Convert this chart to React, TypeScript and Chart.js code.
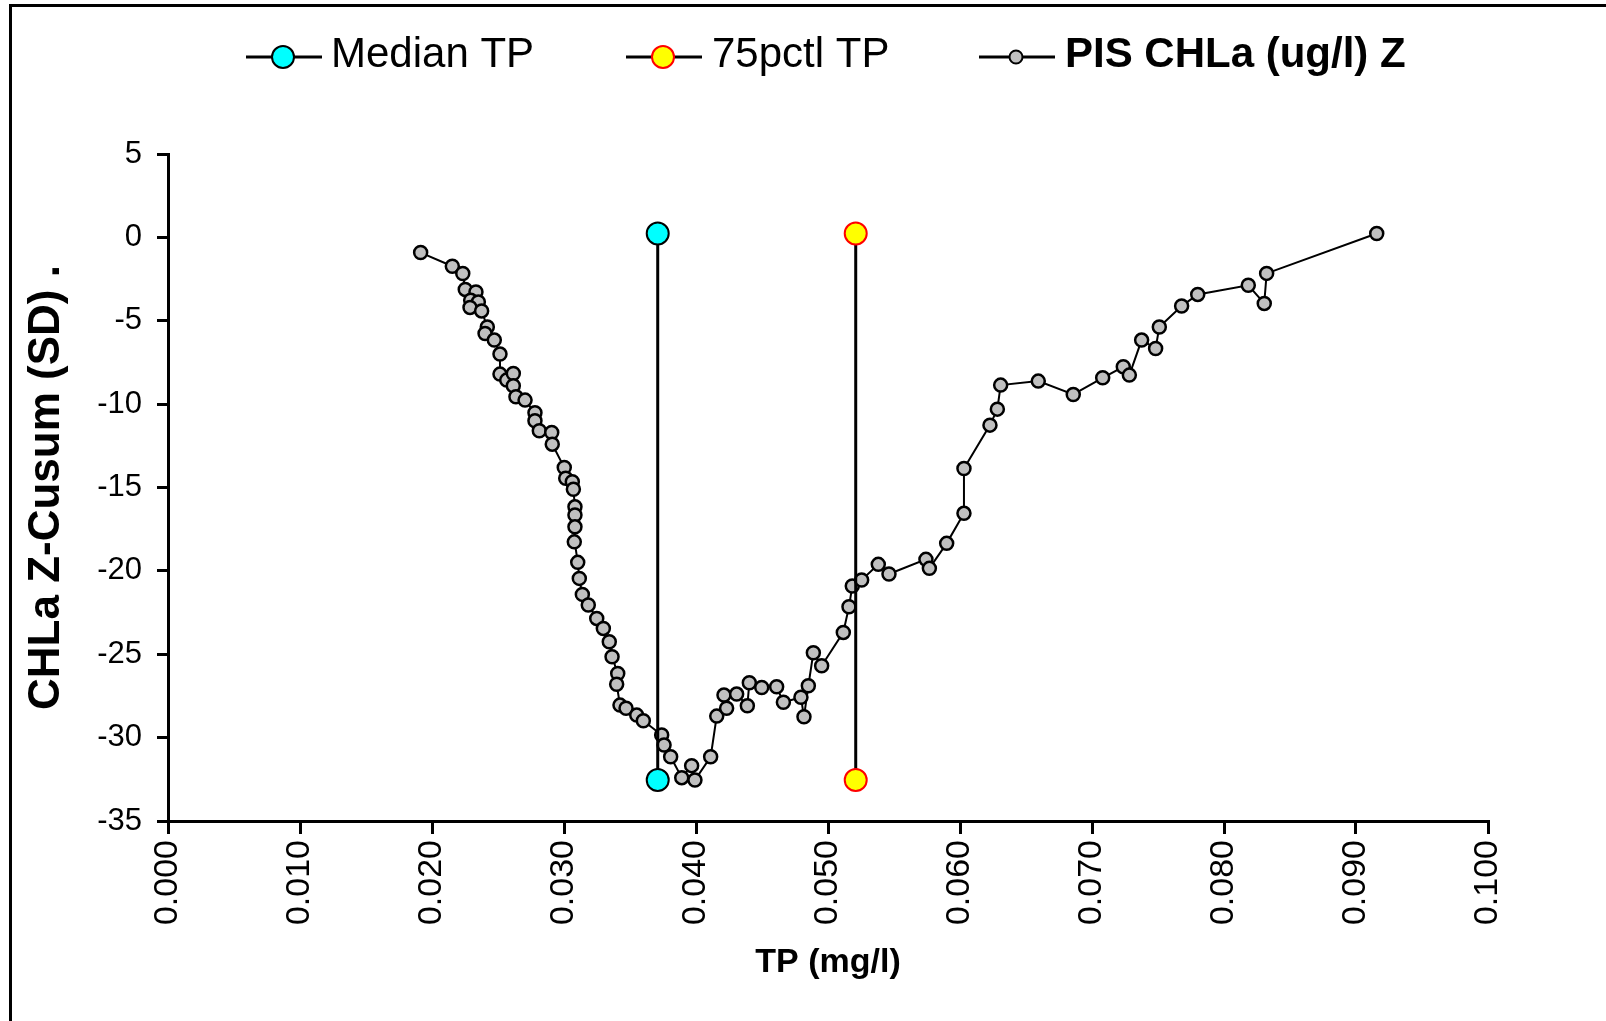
import React, { useEffect, useRef } from "react";
import { Chart, registerables } from "chart.js";

Chart.register(...registerables);

// TP (mg/l), sorted, for the PIS CHLa Z-cusum series
const tpValues = [
  0.01914, 0.02154, 0.02233, 0.02252, 0.02333, 0.02293, 0.02351, 0.02288, 0.02376, 0.02419,
  0.02402, 0.02472, 0.02515, 0.02515, 0.02566, 0.02616, 0.02616, 0.02636, 0.02705, 0.0278,
  0.0278, 0.02813, 0.02907, 0.02911, 0.03002, 0.03013, 0.03063, 0.03071, 0.03083, 0.03083,
  0.03083, 0.03078, 0.03104, 0.03116, 0.03139, 0.03184, 0.03248, 0.03298, 0.03343, 0.03364,
  0.03407, 0.03399, 0.03424, 0.0347, 0.03551, 0.03601, 0.0374, 0.03758, 0.03808, 0.03892,
  0.03967, 0.03992, 0.04111, 0.04157, 0.04232, 0.04212, 0.04308, 0.04389, 0.04404, 0.04498,
  0.04611, 0.04662, 0.04795, 0.04818, 0.04851, 0.04889, 0.04952, 0.05116, 0.05159, 0.05184,
  0.05255, 0.05381, 0.05462, 0.05742, 0.05768, 0.05899, 0.0603, 0.0603, 0.06227, 0.06283,
  0.06308, 0.06593, 0.06858, 0.07081, 0.07237, 0.07283, 0.07376, 0.07482, 0.0751, 0.07679,
  0.07801, 0.08184, 0.08305, 0.08323, 0.09157,
];

// CHLa Z-Cusum (SD)
const cusumValues = [
  -0.91, -1.73, -2.17, -3.12, -3.27, -3.77, -3.87, -4.2, -4.41, -5.37,
  -5.76, -6.16, -7.0, -8.2, -8.56, -8.16, -8.9, -9.56, -9.76, -10.52,
  -11.0, -11.6, -11.7, -12.4, -13.8, -14.45, -14.66, -15.11, -16.16, -16.65,
  -17.36, -18.26, -19.49, -20.45, -21.41, -22.05, -22.85, -23.45, -24.25, -25.15,
  -26.15, -26.8, -28.05, -28.24, -28.65, -28.99, -29.84, -30.44, -31.15, -32.4,
  -31.68, -32.54, -31.15, -28.71, -28.24, -27.45, -27.39, -28.09, -26.71, -26.99,
  -26.95, -27.88, -27.58, -28.75, -26.89, -24.91, -25.69, -23.69, -22.15, -20.91,
  -20.55, -19.61, -20.19, -19.31, -19.85, -18.35, -16.55, -13.86, -11.26, -10.3,
  -8.86, -8.62, -9.42, -8.42, -7.76, -8.26, -6.16, -6.66, -5.37, -4.12,
  -3.42, -2.87, -3.96, -2.16, 0.23,
];

const medianTP = 0.0371;
const pctl75TP = 0.0521;
const markerLow = -32.54;
const markerHigh = 0.23;

const seriesNames = ["Median TP", "75pctl TP", "PIS CHLa (ug/l) Z"];
const xAxisTitle = "TP (mg/l)";
const yAxisTitle = "CHLa Z-Cusum (SD) .";
const xRange = [0, 0.1];
const xStep = 0.01;
const yRange = [-35, 5];
const yStep = 5;

const FONT = "'Liberation Sans', Arial, Helvetica, sans-serif";

const legendPlugin = {
  id: "lineMarkerLegend",
  afterDraw(chart: any) {
    const ctx = chart.ctx as CanvasRenderingContext2D;
    const items = [
      { x: 246, textX: 331, fill: "#00FFFF", stroke: "#000000", r: 11, bold: false, label: seriesNames[0] },
      { x: 626, textX: 712, fill: "#FFFF00", stroke: "#FF0000", r: 11, bold: false, label: seriesNames[1] },
      { x: 979, textX: 1065, fill: "#C0C0C0", stroke: "#000000", r: 6.5, bold: true, label: seriesNames[2] },
    ];
    const ly = 57;
    ctx.save();
    for (const it of items) {
      ctx.beginPath();
      ctx.strokeStyle = "#000000";
      ctx.lineWidth = 3;
      ctx.moveTo(it.x, ly);
      ctx.lineTo(it.x + 76, ly);
      ctx.stroke();
      ctx.beginPath();
      ctx.arc(it.x + 37, ly, it.r, 0, Math.PI * 2);
      ctx.fillStyle = it.fill;
      ctx.fill();
      ctx.lineWidth = 2;
      ctx.strokeStyle = it.stroke;
      ctx.stroke();
      ctx.fillStyle = "#000000";
      ctx.font = `${it.bold ? "bold " : ""}42px ${FONT}`;
      ctx.textBaseline = "alphabetic";
      ctx.textAlign = "left";
      ctx.fillText(it.label, it.textX, 67);
    }
    ctx.restore();
  },
};

export default function App() {
  const ref = useRef<HTMLCanvasElement>(null);

  useEffect(() => {
    const canvas = ref.current;
    if (!canvas) return;
    const pisData = tpValues.map((x, i) => ({ x, y: cusumValues[i] }));
    const chart = new Chart(canvas, {
      type: "scatter",
      data: {
        datasets: [
          {
            label: seriesNames[0],
            data: [
              { x: medianTP, y: markerLow },
              { x: medianTP, y: markerHigh },
            ],
            showLine: true,
            borderColor: "#000000",
            borderWidth: 3,
            pointRadius: 11,
            pointBackgroundColor: "#00FFFF",
            pointBorderColor: "#000000",
            pointBorderWidth: 2,
            order: 1,
          },
          {
            label: seriesNames[1],
            data: [
              { x: pctl75TP, y: markerLow },
              { x: pctl75TP, y: markerHigh },
            ],
            showLine: true,
            borderColor: "#000000",
            borderWidth: 3,
            pointRadius: 11,
            pointBackgroundColor: "#FFFF00",
            pointBorderColor: "#FF0000",
            pointBorderWidth: 2,
            order: 1,
          },
          {
            label: seriesNames[2],
            data: pisData,
            showLine: true,
            borderColor: "#000000",
            borderWidth: 2,
            pointRadius: 6.5,
            pointBackgroundColor: "#C0C0C0",
            pointBorderColor: "#000000",
            pointBorderWidth: 2.5,
            order: 2,
          },
        ],
      },
      options: {
        responsive: false,
        animation: false,
        devicePixelRatio: 1,
        events: [],
        layout: { padding: { left: 0, top: 154, right: 118, bottom: 0 } },
        plugins: {
          legend: { display: false },
          tooltip: { enabled: false },
          title: { display: false },
        },
        scales: {
          x: {
            type: "linear",
            position: "bottom",
            min: xRange[0],
            max: xRange[1],
            afterFit: (scale: any) => {
              scale.height = 200;
            },
            ticks: {
              stepSize: xStep,
              autoSkip: false,
              minRotation: 90,
              maxRotation: 90,
              padding: 6,
              color: "#000000",
              font: { family: FONT, size: 34 },
              callback: (v: any) => Number(v).toFixed(3),
            },
            grid: {
              display: true,
              drawOnChartArea: false,
              drawTicks: true,
              tickLength: 13,
              color: "#000000",
              lineWidth: 3,
            },
            border: { display: true, color: "#000000", width: 3 },
            title: {
              display: true,
              text: xAxisTitle,
              color: "#000000",
              font: { family: FONT, size: 34, weight: "bold", lineHeight: 1 },
              padding: { top: 0, bottom: 41 },
            },
          },
          y: {
            type: "linear",
            position: "left",
            min: yRange[0],
            max: yRange[1],
            afterFit: (scale: any) => {
              scale.width = 168;
            },
            ticks: {
              stepSize: yStep,
              padding: 15,
              color: "#000000",
              font: { family: FONT, size: 31 },
            },
            grid: {
              display: true,
              drawOnChartArea: false,
              drawTicks: true,
              tickLength: 11,
              color: "#000000",
              lineWidth: 3,
            },
            border: { display: true, color: "#000000", width: 3 },
            title: {
              display: true,
              text: yAxisTitle,
              color: "#000000",
              font: { family: FONT, size: 44, weight: "bold", lineHeight: 1 },
              padding: { top: 25, bottom: 0 },
            },
          },
        },
      },
      plugins: [legendPlugin],
    });
    return () => chart.destroy();
  }, []);

  return (
    <>
      <div
        style={{
          position: "fixed",
          left: 9,
          top: 4,
          right: 0,
          bottom: 0,
          borderTop: "3px solid #000",
          borderLeft: "3px solid #000",
        }}
      />
      <canvas
        ref={ref}
        width={1606}
        height={1021}
        style={{ position: "fixed", left: 0, top: 0, width: 1606, height: 1021 }}
      />
    </>
  );
}
